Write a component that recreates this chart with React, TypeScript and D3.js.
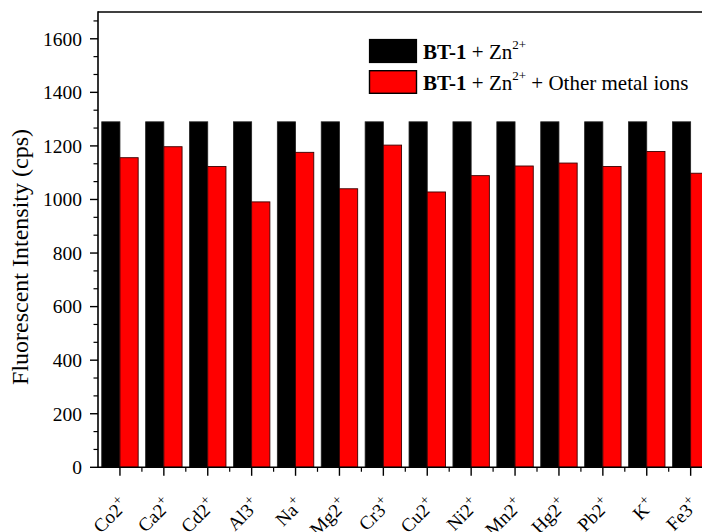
import React from "react";
import * as d3 from "d3";

const categories = ["Co2+", "Ca2+", "Cd2+", "Al3+", "Na+", "Mg2+", "Cr3+", "Cu2+", "Ni2+", "Mn2+", "Hg2+", "Pb2+", "K+", "Fe3+"];
const znValues = [1290, 1290, 1290, 1290, 1290, 1290, 1290, 1290, 1290, 1290, 1290, 1290, 1290, 1290];
const otherValues = [1156, 1197, 1123, 991, 1176, 1040, 1203, 1028, 1089, 1125, 1136, 1123, 1179, 1098];
const yTicks = [0, 200, 400, 600, 800, 1000, 1200, 1400, 1600];

const W = 702, H = 532;
const left = 98, top = 12, bottom = 467.3, right = 712.6;
const FONT = "'Liberation Serif', 'Times New Roman', serif";

export default function App() {
  const x = d3.scaleBand<string>().domain(categories).range([left, right]).padding(0);
  const y = d3.scaleLinear().domain([0, 1700]).range([bottom, top]);
  const bw = x.bandwidth() * 0.415;
  const minorY = d3.range(0, 1700.01, 200 / 3).filter((v) => Math.abs(v / 200 - Math.round(v / 200)) > 1e-6);

  return (
    <svg width={W} height={H} style={{ position: "absolute", left: 0, top: 0, background: "#fff" }} fontFamily={FONT}>
      {/* bars */}
      {categories.map((c, i) => {
        const cx = x(c)! + x.bandwidth() / 2;
        return (
          <g key={c}>
            <rect x={cx - bw} y={y(znValues[i])} width={bw} height={bottom - y(znValues[i])} fill="#000" stroke="#222" strokeWidth={0.8} />
            <rect x={cx} y={y(otherValues[i])} width={bw} height={bottom - y(otherValues[i])} fill="#ff0000" stroke="#3a0000" strokeWidth={0.9} />
          </g>
        );
      })}
      {/* axes frame */}
      <line x1={left} x2={W} y1={top} y2={top} stroke="#000" strokeWidth={1.6} />
      <line x1={left} x2={left} y1={top - 0.8} y2={bottom + 0.8} stroke="#000" strokeWidth={1.6} />
      <line x1={left} x2={W} y1={bottom} y2={bottom} stroke="#000" strokeWidth={1.6} />
      {/* y ticks */}
      {yTicks.map((t) => (
        <g key={t}>
          <line x1={left - 8} x2={left} y1={y(t)} y2={y(t)} stroke="#000" strokeWidth={1.4} />
          <text x={82} y={y(t)} dy="0.35em" textAnchor="end" fontSize={19.5}>{t}</text>
        </g>
      ))}
      {minorY.map((t) => (
        <line key={t} x1={left - 4.5} x2={left} y1={y(t)} y2={y(t)} stroke="#000" strokeWidth={1.2} />
      ))}
      {/* x ticks */}
      {categories.map((c) => {
        const cx = x(c)! + x.bandwidth() / 2;
        return <line key={c} x1={cx} x2={cx} y1={bottom} y2={bottom + 8.5} stroke="#000" strokeWidth={1.4} />;
      })}
      {categories.map((c) => {
        const bx = x(c)! + x.bandwidth();
        return <line key={"m" + c} x1={bx} x2={bx} y1={bottom} y2={bottom + 4.5} stroke="#000" strokeWidth={1.2} />;
      })}
      {/* x labels */}
      {categories.map((c) => {
        const cx = x(c)! + x.bandwidth() / 2;
        const ax = cx + 9, ay = 506;
        const base = c.replace(/\+$/, "");
        return (
          <g key={"l" + c} transform={`translate(${ax},${ay}) rotate(-45)`}>
            <text x={0} y={0} textAnchor="end" fontSize={19}>
              <tspan>{base}</tspan>
              <tspan fontSize={14} dy={-8}>+</tspan>
            </text>
          </g>
        );
      })}
      {/* y title */}
      <text transform={`translate(28 257) rotate(-90)`} textAnchor="middle" fontSize={24}>Fluorescent Intensity (cps)</text>
      {/* legend */}
      <rect x={369.5} y={39.5} width={47} height={23} fill="#000" stroke="#000" strokeWidth={1.2} />
      <rect x={369.5} y={70.7} width={47} height={22.6} fill="#ff0000" stroke="#000" strokeWidth={1.4} />
      <text x={423} y={58.5} fontSize={21}>
        <tspan fontWeight="bold">BT-1</tspan>
        <tspan> + Zn</tspan>
        <tspan fontSize={13} dy={-10}>2+</tspan>
      </text>
      <text x={423} y={89.5} fontSize={21}>
        <tspan fontWeight="bold">BT-1</tspan>
        <tspan> + Zn</tspan>
        <tspan fontSize={13} dy={-10}>2+</tspan>
        <tspan dy={10}> + Other metal ions</tspan>
      </text>
    </svg>
  );
}
